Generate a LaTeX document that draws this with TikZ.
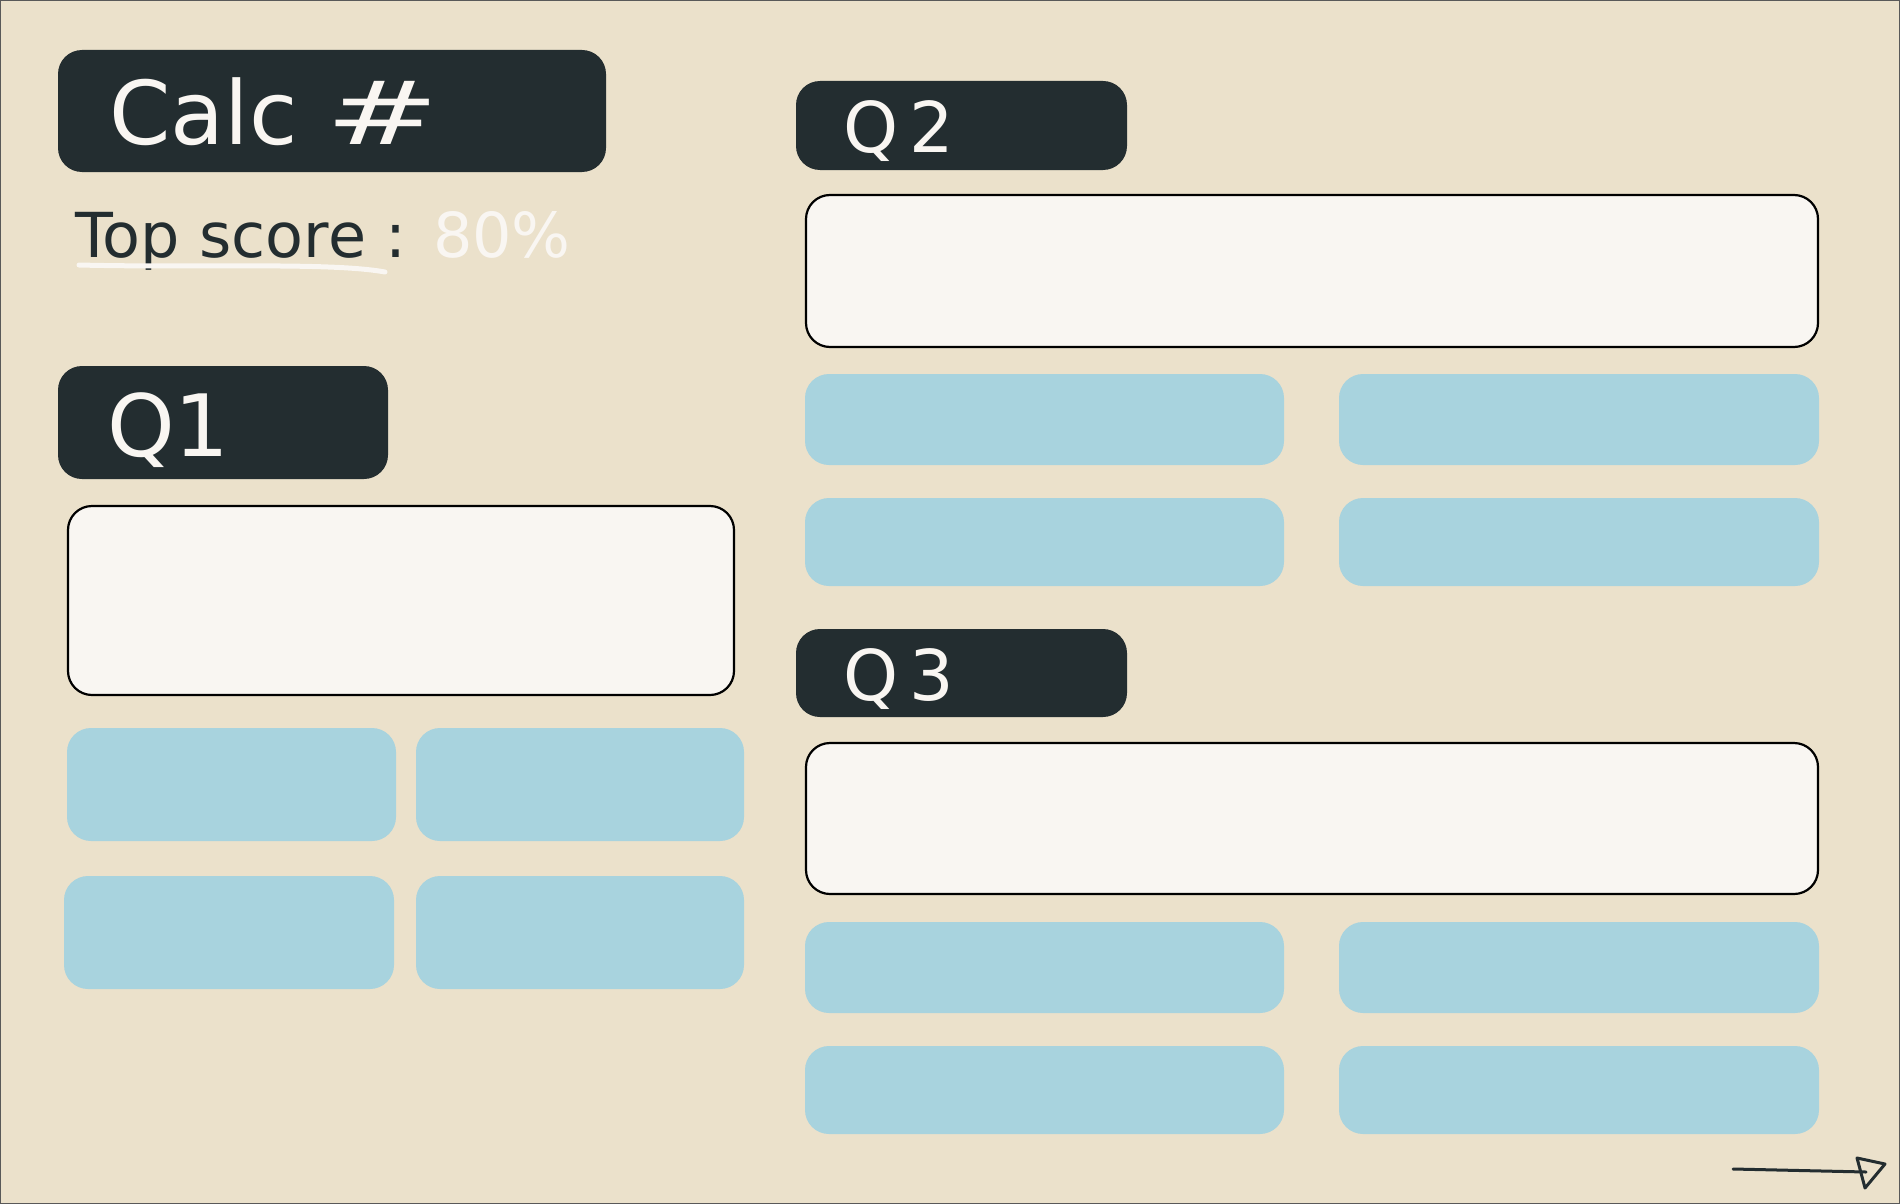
\documentclass[tikz,border=0pt]{standalone}
\usepackage{fontspec}
\setmainfont{DejaVu Sans}
\definecolor{bgc}{HTML}{EBE1CB}
\definecolor{darkc}{HTML}{232D30}
\definecolor{bluec}{HTML}{A8D3DE}
\definecolor{paperc}{HTML}{F9F6F2}
\tikzset{
  header/.style={fill=darkc, rounded corners=24pt, inner sep=0pt},
  qbox/.style={fill=paperc, draw=black, line width=2.2pt, rounded corners=24pt, inner sep=0pt},
  ans/.style={fill=bluec, rounded corners=24pt, inner sep=0pt},
  hand/.style={anchor=base west, inner sep=0pt, text=paperc},
}
\begin{document}
\begin{tikzpicture}[x=1pt,y=-1pt]
\fill[bgc] (0,0) rectangle (1900,1204);
\draw[gray!70!black, line width=1pt] (0.5,0.5) rectangle (1899.5,1203.5);
\useasboundingbox (0,0) rectangle (1900,1204);

% title
\node[header, minimum width=548pt, minimum height=122pt] (title) at (332,111) {};
\node[hand, font=\fontsize{88}{90}\selectfont] (titletext) at (109,145) {Calc\hspace{28pt}\scalebox{1.55}[1]{\#}};
\node[anchor=base west, inner sep=0pt, text=darkc, font=\fontsize{62}{64}\selectfont] (score) at (75,257) {Top score : \textcolor{paperc}{80\%}};
\draw[paperc, line width=5pt, line cap=round] (79,265) .. controls (200,268) and (330,262) .. (385,272);

% Q1
\node[header, minimum width=330pt, minimum height=113pt] (q1h) at (223,422.5) {};
\node[hand, font=\fontsize{86}{88}\selectfont] (q1t) at (107,456) {Q1};
\node[qbox, minimum width=666pt, minimum height=189pt] (q1box) at (401,600.5) {};
\node[ans, minimum width=329pt, minimum height=113pt] (q1a) at (231.5,784.5) {};
\node[ans, minimum width=328pt, minimum height=113pt] (q1b) at (580,784.5) {};
\node[ans, minimum width=330pt, minimum height=113pt] (q1c) at (229,932.5) {};
\node[ans, minimum width=328pt, minimum height=113pt] (q1d) at (580,932.5) {};

% Q2
\node[header, minimum width=331pt, minimum height=89pt] (q2h) at (961.5,125.5) {};
\node[hand, font=\fontsize{70}{72}\selectfont] (q2t) at (843,153) {Q\,2};
\node[qbox, minimum width=1012pt, minimum height=152pt] (q2box) at (1312,271) {};
\node[ans, minimum width=479pt, minimum height=91pt] (q2a) at (1044.5,419.5) {};
\node[ans, minimum width=480pt, minimum height=91pt] (q2b) at (1579,419.5) {};
\node[ans, minimum width=479pt, minimum height=88pt] (q2c) at (1044.5,542) {};
\node[ans, minimum width=480pt, minimum height=88pt] (q2d) at (1579,542) {};

% Q3
\node[header, minimum width=331pt, minimum height=88pt] (q3h) at (961.5,673) {};
\node[hand, font=\fontsize{70}{72}\selectfont] (q3t) at (843,700) {Q\,3};
\node[qbox, minimum width=1012pt, minimum height=151pt] (q3box) at (1312,818.5) {};
\node[ans, minimum width=479pt, minimum height=91pt] (q3a) at (1044.5,967.5) {};
\node[ans, minimum width=480pt, minimum height=91pt] (q3b) at (1579,967.5) {};
\node[ans, minimum width=479pt, minimum height=88pt] (q3c) at (1044.5,1090) {};
\node[ans, minimum width=480pt, minimum height=88pt] (q3d) at (1579,1090) {};

% next arrow
\coordinate (arrS) at (1733,1169);
\coordinate (arrE) at (1866,1172);
\draw[darkc, line width=3pt, line cap=round] (arrS) -- (arrE);
\draw[darkc, line width=3pt, line join=round] (1857,1158) -- (1885,1164) -- (1865,1188) -- cycle;
\end{tikzpicture}
\end{document}
